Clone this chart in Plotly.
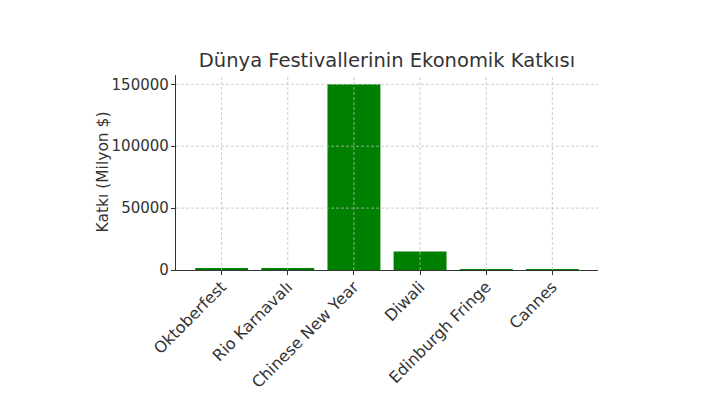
import plotly.graph_objects as go

festivals = ["Oktoberfest", "Rio Karnavalı", "Chinese New Year", "Diwali", "Edinburgh Fringe", "Cannes"]
values = [1100, 1400, 150000, 15000, 500, 50]
y_ticks = [0, 50000, 100000, 150000]

x_idx = list(range(len(festivals)))
fig = go.Figure(go.Bar(x=x_idx, y=values, marker=dict(color="#008000", line=dict(width=0)), width=0.8))

grid_col = "rgba(190,190,190,0.75)"
shapes = []
for i in x_idx:
    shapes.append(dict(type="line", xref="x", yref="paper", x0=i, x1=i, y0=0, y1=1,
                       line=dict(color=grid_col, width=1, dash="3px,2px"), layer="above"))
for v in y_ticks[1:]:
    shapes.append(dict(type="line", xref="paper", yref="y", x0=0, x1=1, y0=v, y1=v,
                       line=dict(color=grid_col, width=1, dash="3px,2px"), layer="above"))

font = "DejaVu Sans"
fig.update_layout(
    width=727, height=399,
    margin=dict(l=176, r=129, t=75, b=129),
    plot_bgcolor="white", paper_bgcolor="white",
    showlegend=False,
    shapes=shapes,
    title=dict(text="Dünya Festivallerinin Ekonomik Katkısı", x=(176 + 598) / 2 / 727, xanchor="center",
               y=1 - 60 / 399, yanchor="middle", font=dict(family=font, size=19.5, color="#333333")),
    font=dict(family=font, size=16, color="#333333"),
    annotations=[dict(text="Katkı (Milyon $)", xref="paper", yref="paper", x=0, y=0.5, xshift=-74,
                      xanchor="center", yanchor="middle", textangle=-90, showarrow=False,
                      font=dict(family=font, size=15.5, color="#333333"))],
)
fig.update_xaxes(
    range=[-0.69, 5.69], tickmode="array", tickvals=x_idx, ticktext=festivals,
    tickangle=-45, showgrid=False, automargin=False,
    showline=True, linecolor="#333333", linewidth=1.3, ticks="outside", ticklen=4, tickcolor="#333333",
    zeroline=False, tickfont=dict(size=16), ticklabelstandoff=-4,
)
fig.update_yaxes(
    range=[0, 157500], tickvals=y_ticks, ticktext=[str(v) for v in y_ticks],
    showgrid=False, automargin=False,
    showline=True, linecolor="#333333", linewidth=1.3, ticks="outside", ticklen=4, tickcolor="#333333",
    zeroline=False, tickfont=dict(size=15), ticklabelstandoff=-1,
)
fig.write_html("out.html")
